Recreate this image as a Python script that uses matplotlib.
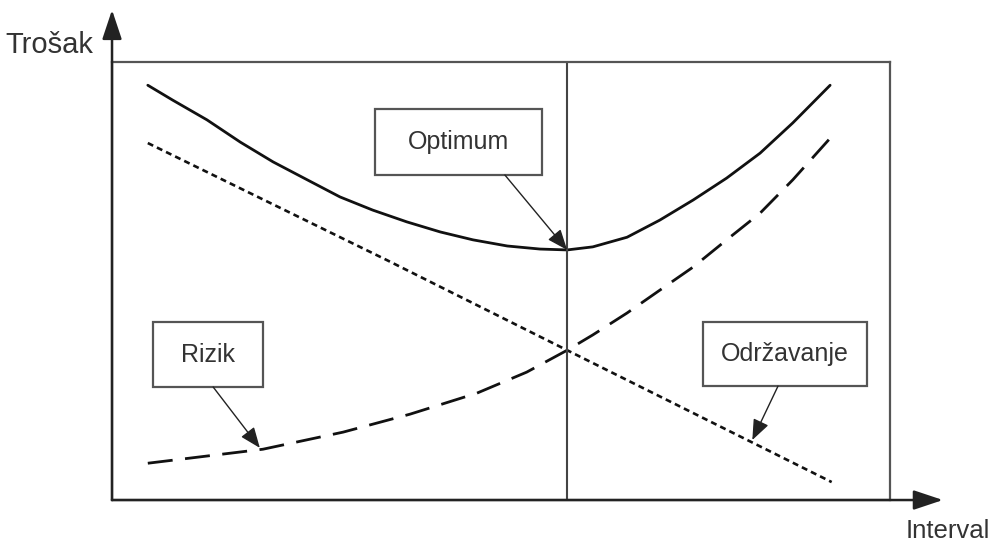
import matplotlib.pyplot as plt
from matplotlib.patches import Rectangle

plt.rcParams['font.family'] = ['Liberation Sans', 'DejaVu Sans']
plt.rcParams['lines.scale_dashes'] = False

# ukupni trošak (puna linija)
total_x = [0.46, 0.78, 1.22, 1.65, 2.07, 2.51, 2.93, 3.35, 3.79, 4.22, 4.64,
           5.08, 5.50, 5.85, 6.18, 6.62, 7.04, 7.47, 7.90, 8.33, 8.75, 9.23]
total_y = [9.47, 9.13, 8.68, 8.17, 7.72, 7.31, 6.92, 6.62, 6.35, 6.12, 5.94,
           5.80, 5.73, 5.71, 5.78, 6.00, 6.39, 6.85, 7.35, 7.92, 8.61, 9.47]

# održavanje (točkasta linija)
maint_x = [0.46, 3.53, 5.85, 9.25]
maint_y = [8.15, 5.48, 3.42, 0.41]

# rizik (crtkana linija)
risk_x = [0.46, 1.94, 2.97, 3.83, 4.69, 5.33, 5.85, 6.18, 6.62, 7.04, 7.47,
          7.90, 8.33, 8.75, 9.23]
risk_y = [0.84, 1.16, 1.55, 1.96, 2.44, 2.92, 3.42, 3.77, 4.27, 4.79, 5.32,
          5.94, 6.55, 7.31, 8.26]

optimum_x = 5.85

fig = plt.figure(figsize=(9.94, 5.46), dpi=100)
ax = fig.add_axes([0.1127, 0.0842, 0.7827, 0.8022])
ax.set_xlim(0, 10)
ax.set_ylim(0, 10)
ax.set_xticks([])
ax.set_yticks([])
for s in ax.spines.values():
    s.set_color('#555555')
    s.set_linewidth(1.6)

ink = '#111111'
ax.plot(total_x, total_y, color=ink, lw=2.0, solid_capstyle='round', solid_joinstyle='round')
ax.plot(maint_x, maint_y, color=ink, lw=1.9, dashes=(4.3, 3.0))
ax.plot(risk_x, risk_y, color=ink, lw=2.0, dashes=(18, 9))
ax.axvline(optimum_x, color='#444444', lw=1.5)

# strelice osi
axis_arrow = dict(arrowstyle='-|>,head_length=0.9,head_width=0.3', color='#222222',
                  lw=1.8, mutation_scale=20, shrinkA=0, shrinkB=0)
ax.annotate('', xy=(0, 1.119), xytext=(0, 0), xycoords='axes fraction',
            arrowprops=axis_arrow, annotation_clip=False)
ax.annotate('', xy=(1.068, 0), xytext=(0, 0), xycoords='axes fraction',
            arrowprops=axis_arrow, annotation_clip=False)

ax.text(-0.1375, 1.039, 'Trošak', transform=ax.transAxes, ha='left', va='center',
        fontsize=21, color='#333333')
ax.text(1.1285, -0.0708, 'Interval', transform=ax.transAxes, ha='right', va='center',
        fontsize=18.5, color='#333333')

# okviri s oznakama: (tekst, x0, x1, y0, y1, početak strelice, vrh strelice)
boxes = [
    ('Optimum', 3.38, 5.53, 7.42, 8.93, (5.05, 7.42), (5.85, 5.71)),
    ('Rizik', 0.53, 1.94, 2.58, 4.06, (1.30, 2.58), (1.90, 1.19)),
    ('Održavanje', 7.60, 9.70, 2.60, 4.06, (8.56, 2.60), (8.23, 1.37)),
]
for label, x0, x1, y0, y1, start, tip in boxes:
    ax.add_patch(Rectangle((x0, y0), x1 - x0, y1 - y0, facecolor='white',
                           edgecolor='#555555', lw=1.6, zorder=3))
    ax.text((x0 + x1) / 2, (y0 + y1) / 2, label, ha='center', va='center',
            fontsize=18, color='#333333', zorder=4)
    ax.annotate('', xy=tip, xytext=start,
                arrowprops=dict(arrowstyle='-|>,head_length=0.7,head_width=0.28',
                                color='#222222', lw=1.0, mutation_scale=18,
                                shrinkA=0, shrinkB=0), zorder=4)

fig.savefig('out.png', dpi=100)
